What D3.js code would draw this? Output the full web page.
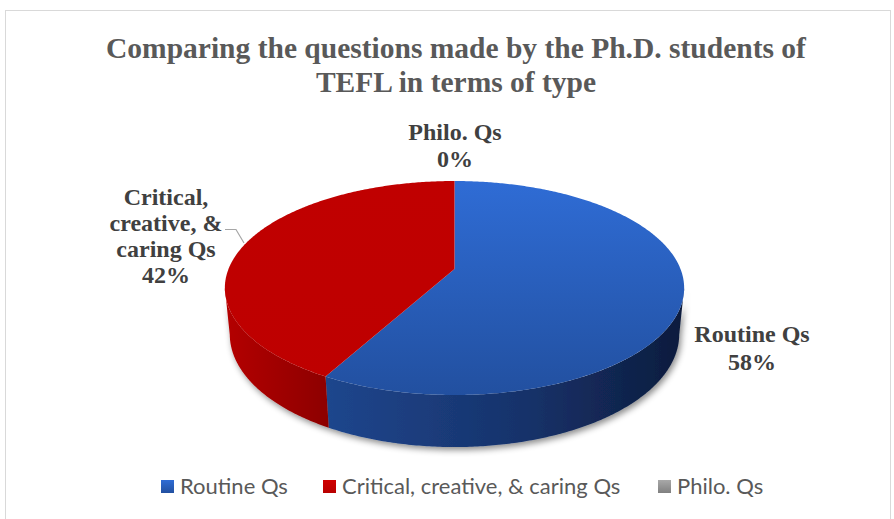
<!DOCTYPE html>
<html>
<head>
<meta charset="utf-8">
<script src="https://cdn.jsdelivr.net/npm/d3@7"></script>
<style>
  body { margin: 0; background: #fff; }
  svg { display: block; }
</style>
</head>
<body>
<div id="chart"></div>
<script>
// chart data
var categories = ["Routine Qs", "Critical, creative, & caring Qs", "Philo. Qs"];
var percents = [58, 42, 0];
var labelLines = [["Routine Qs", "58%"], ["Critical,", "creative, &", "caring Qs", "42%"], ["Philo. Qs", "0%"]];
var titleLines = ["Comparing the questions made by the Ph.D. students of", "TEFL in terms of type"];

var width = 894, height = 519;

var svg = d3.select("#chart").append("svg")
    .attr("width", width)
    .attr("height", height);

var defs = svg.append("defs");

function linGrad(id, x1, y1, x2, y2, stops, user) {
    var g = defs.append("linearGradient").attr("id", id)
        .attr("x1", x1).attr("y1", y1).attr("x2", x2).attr("y2", y2);
    if (user) g.attr("gradientUnits", "userSpaceOnUse");
    stops.forEach(function (s) {
        g.append("stop").attr("offset", s[0]).attr("stop-color", s[1]);
    });
}
linGrad("topBlue", 0, 181, 0, 395, [["0%", "#2F6CD5"], ["100%", "#2250A0"]], true);
linGrad("topRed", 0, 181, 0, 395, [["0%", "#C00000"], ["100%", "#BE0000"]], true);
linGrad("topGray", 0, 181, 0, 395, [["0%", "#A5A5A5"], ["100%", "#8A8A8A"]], true);
linGrad("sideBlue", 325, 0, 690, 0, [["0%", "#1F468D"], ["55%", "#16326A"], ["100%", "#0D1B3B"]], true);
linGrad("sideRed", 225, 0, 330, 0, [["0%", "#B40000"], ["100%", "#8C0000"]], true);
linGrad("sideGray", 225, 0, 690, 0, [["0%", "#8A8A8A"], ["100%", "#555555"]], true);
linGrad("legBlue", 0, 0, 0, 1, [["0%", "#2F6CD5"], ["100%", "#2250A0"]]);
linGrad("legRed", 0, 0, 0, 1, [["0%", "#D00000"], ["100%", "#B80000"]]);
linGrad("legGray", 0, 0, 0, 1, [["0%", "#A8A8A8"], ["100%", "#808080"]]);

var shadow = defs.append("filter").attr("id", "shadow")
    .attr("x", "-10%").attr("y", "-10%").attr("width", "120%").attr("height", "130%");
shadow.append("feDropShadow").attr("dx", 2).attr("dy", 3).attr("stdDeviation", 3)
    .attr("flood-color", "#000").attr("flood-opacity", 0.45);

var topFill = ["url(#topBlue)", "url(#topRed)", "url(#topGray)"];
var sideFill = ["url(#sideBlue)", "url(#sideRed)", "url(#sideGray)"];
var legFill = ["url(#legBlue)", "url(#legRed)", "url(#legGray)"];

// frame
svg.append("rect")
    .attr("x", 5.5).attr("y", 10.5)
    .attr("width", 885).attr("height", 520)
    .attr("fill", "#fff").attr("stroke", "#d9d9d9");

// title
svg.append("g").selectAll("text")
    .data(titleLines)
    .enter().append("text")
    .attr("x", 456)
    .attr("y", function (d, i) { return 58 + i * 34; })
    .attr("text-anchor", "middle")
    .style("font-family", "'Liberation Serif', 'Times New Roman', serif")
    .style("font-weight", "bold")
    .style("font-size", "29.5px")
    .style("fill", "#595959")
    .text(function (d) { return d; });

// 3d pie with a perspective projection
var cx = 454.5, cy = 269, focal = 226;
var tilt = Math.asin(0.4585), dist = 0.1998, depth = 0.232;

function project(theta, lift) {
    var X = Math.sin(theta), Z = Math.cos(theta), Y = lift;
    var yc = Y * Math.cos(tilt) + Z * Math.sin(tilt);
    var zn = 1 + dist * (Z * Math.cos(tilt) - Y * Math.sin(tilt));
    return [cx + focal * X / zn, cy - focal * yc / zn];
}

function ring(a0, a1, lift) {
    var n = Math.max(2, Math.ceil(Math.abs(a1 - a0) / 0.01));
    return d3.range(n + 1).map(function (i) {
        return project(a0 + (a1 - a0) * i / n, lift);
    });
}

// visible range of the side wall: where the top ring reaches its widest points
var sweep = d3.range(0, 2 * Math.PI, 0.001);
var leftA = d3.least(sweep, function (t) { return project(t, 0)[0]; });
var rightA = d3.greatest(sweep, function (t) { return project(t, 0)[0]; });

var pie = d3.pie().sort(null).value(function (d) { return d; });
var slices = pie(percents);

var line = d3.line();

var sideG = svg.append("g").attr("filter", "url(#shadow)");
slices.forEach(function (s, i) {
    var a0 = Math.max(s.startAngle, rightA), a1 = Math.min(s.endAngle, leftA);
    if (a1 <= a0) return;
    var pts = ring(a0, a1, 0).concat(ring(a1, a0, -depth));
    sideG.append("path")
        .attr("d", line(pts) + "Z")
        .attr("fill", sideFill[i]);
});

var topG = svg.append("g");
slices.forEach(function (s, i) {
    if (s.endAngle - s.startAngle <= 0) return;
    var pts = [[cx, cy]].concat(ring(s.startAngle, s.endAngle, 0));
    topG.append("path")
        .attr("d", line(pts) + "Z")
        .attr("fill", topFill[i]);
});

// data labels
var labelPos = [[752, 342, 28], [166, 205, 26], [455, 140, 27]];
var labelG = svg.append("g")
    .style("font-family", "'Liberation Serif', 'Times New Roman', serif")
    .style("font-weight", "bold")
    .style("font-size", "24px")
    .style("fill", "#404040");
labelLines.forEach(function (lines, i) {
    var t = labelG.append("text")
        .attr("text-anchor", "middle");
    lines.forEach(function (l, j) {
        t.append("tspan")
            .attr("x", labelPos[i][0])
            .attr("y", labelPos[i][1] + j * labelPos[i][2])
            .text(l);
    });
});

// leader line for the red slice
svg.append("path")
    .attr("d", line([[225, 229.5], [236, 229.5], [244, 243]]))
    .attr("fill", "none")
    .attr("stroke", "#a6a6a6")
    .attr("stroke-width", 1.2);

// legend
var legX = [161, 323, 658];
var leg = svg.append("g").selectAll("g")
    .data(categories)
    .enter().append("g")
    .attr("transform", function (d, i) { return "translate(" + legX[i] + ",480)"; });
leg.append("rect")
    .attr("width", 13).attr("height", 13)
    .attr("fill", function (d, i) { return legFill[i]; });
leg.append("text")
    .attr("x", 19).attr("y", 14)
    .style("font-family", "Lato, 'Open Sans', sans-serif")
    .style("font-size", "22px")
    .style("fill", "#595959")
    .text(function (d) { return d; });
</script>
</body>
</html>
